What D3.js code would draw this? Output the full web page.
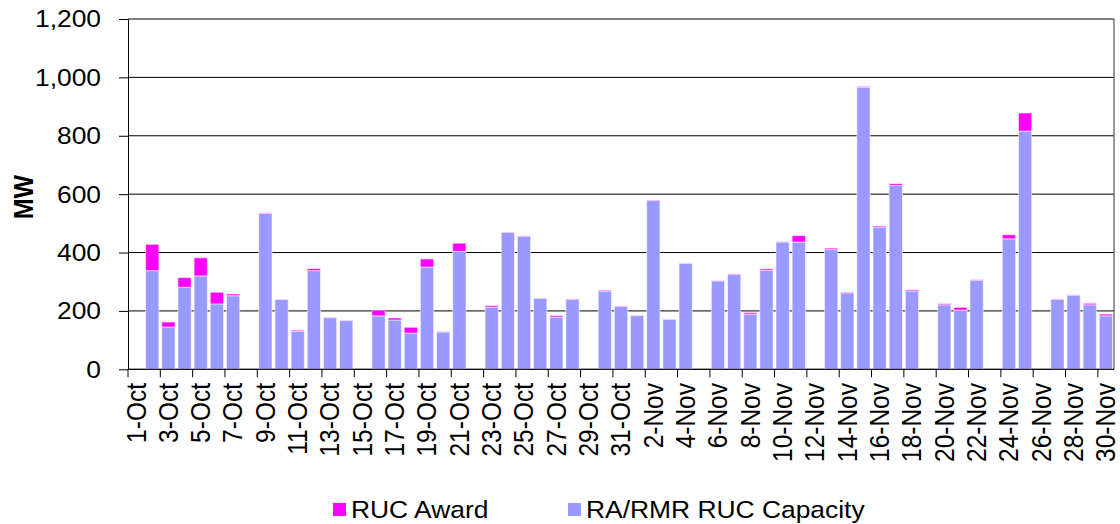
<!DOCTYPE html>
<html>
<head>
<meta charset="utf-8">
<script src="https://cdn.jsdelivr.net/npm/d3@7"></script>
<style>
  html, body { margin: 0; padding: 0; background: #fff; }
  svg { display: block; font-family: Arial, "Liberation Sans", sans-serif; }
</style>
</head>
<body>
<svg id="chart" width="1120" height="524"></svg>
<script>
// Daily RUC capacity and awards, 1-Oct through 30-Nov (MW)
const days = [
  "1-Oct","2-Oct","3-Oct","4-Oct","5-Oct","6-Oct","7-Oct","8-Oct","9-Oct","10-Oct",
  "11-Oct","12-Oct","13-Oct","14-Oct","15-Oct","16-Oct","17-Oct","18-Oct","19-Oct","20-Oct",
  "21-Oct","22-Oct","23-Oct","24-Oct","25-Oct","26-Oct","27-Oct","28-Oct","29-Oct","30-Oct",
  "31-Oct","1-Nov","2-Nov","3-Nov","4-Nov","5-Nov","6-Nov","7-Nov","8-Nov","9-Nov",
  "10-Nov","11-Nov","12-Nov","13-Nov","14-Nov","15-Nov","16-Nov","17-Nov","18-Nov","19-Nov",
  "20-Nov","21-Nov","22-Nov","23-Nov","24-Nov","25-Nov","26-Nov","27-Nov","28-Nov","29-Nov",
  "30-Nov"
];

const capacity = [
  0, 338, 145, 281, 320, 224, 252, 0, 534, 239,
  130, 338, 177, 167, 0, 183, 169, 124, 350, 128,
  404, 0, 213, 469, 456, 243, 179, 240, 0, 268,
  215, 184, 578, 171, 363, 0, 303, 325, 189, 339,
  436, 436, 0, 410, 262, 966, 487, 630, 268, 0,
  221, 203, 305, 0, 447, 816, 0, 240, 254, 221,
  183
];

const award = [
  0, 90, 17, 33, 62, 40, 6, 0, 2, 1,
  4, 7, 1, 1, 0, 20, 7, 20, 28, 1,
  28, 0, 5, 1, 1, 1, 5, 1, 0, 3,
  2, 1, 2, 1, 1, 0, 1, 2, 5, 5,
  1, 22, 0, 5, 2, 3, 4, 6, 4, 0,
  4, 9, 2, 0, 14, 62, 0, 1, 1, 5,
  6
];

const yTicks = [0, 200, 400, 600, 800, 1000, 1200];
const seriesNames = ["RUC Award", "RA/RMR RUC Capacity"];
const seriesColors = { "RUC Award": "#FF00FF", "RA/RMR RUC Capacity": "#9999FF" };

const svg = d3.select("#chart");
const W = 1120;
const x0 = 128, x1 = W - 6;
const yTop = 19, yBot = 369.3;
const stretch = 1.1; // text is drawn slightly wide

const x = d3.scaleBand().domain(days).range([x0, x1]).paddingInner(0.18).paddingOuter(0.09);
const y = d3.scaleLinear().domain([0, 1200]).range([yBot, yTop]);

// horizontal gridlines
svg.append("g")
  .selectAll("line")
  .data(yTicks)
  .join("line")
  .attr("x1", x0).attr("x2", x1)
  .attr("y1", d => y(d)).attr("y2", d => y(d))
  .attr("stroke", "#000").attr("stroke-width", 1);

// right edge of the plot area
svg.append("line")
  .attr("x1", x1).attr("x2", x1).attr("y1", yTop).attr("y2", yBot)
  .attr("stroke", "#555").attr("stroke-width", 1.2);

// stacked bars: capacity at the base, award on top
const rows = days.map((d, i) => ({ day: d, cap: capacity[i], award: award[i] }));
const stack = d3.stack().keys(["cap", "award"])(rows);
const keyName = { cap: "RA/RMR RUC Capacity", award: "RUC Award" };

svg.append("g")
  .selectAll("g")
  .data(stack)
  .join("g")
  .attr("fill", s => seriesColors[keyName[s.key]])
  .selectAll("rect")
  .data(s => s.filter(p => p[1] > p[0]))
  .join("rect")
  .attr("x", p => x(p.data.day))
  .attr("width", x.bandwidth())
  .attr("y", p => y(p[1]))
  .attr("height", p => y(p[0]) - y(p[1]))
  .attr("stroke", "rgba(255,255,255,0.55)")
  .attr("stroke-width", 1);

// y axis line and ticks
const yAxis = d3.axisLeft(y).tickValues(yTicks).tickSize(9).tickSizeOuter(0).tickFormat("");
const gy = svg.append("g").attr("transform", `translate(${x0},0)`).call(yAxis);
gy.select(".domain").attr("stroke", "#000");
gy.selectAll(".tick line").attr("stroke", "#000");

// y tick labels
svg.append("g")
  .selectAll("text")
  .data(yTicks)
  .join("text")
  .attr("transform", d => `translate(${x0 - 27},${y(d)}) scale(${stretch},1)`)
  .attr("text-anchor", "end")
  .attr("dy", "0.35em")
  .attr("font-size", 24)
  .attr("fill", "#000")
  .text(d3.format(","));

// x axis: ticks every two days on category boundaries, labels on odd days
const xa = svg.append("g");
xa.append("line").attr("x1", x0).attr("x2", x1).attr("y1", yBot).attr("y2", yBot).attr("stroke", "#000");
const gap = (x.step() - x.bandwidth()) / 2;
const boundaries = days.filter((d, i) => i % 2 === 0);
xa.selectAll("line.tk")
  .data(boundaries)
  .join("line")
  .attr("class", "tk")
  .attr("x1", d => x(d) - gap)
  .attr("x2", d => x(d) - gap)
  .attr("y1", yBot).attr("y2", yBot + 8)
  .attr("stroke", "#000");

const labelled = days.filter((d, i) => i % 2 === 0);
xa.selectAll("text")
  .data(labelled)
  .join("text")
  .attr("transform", d => `translate(${x(d) + x.bandwidth() / 2},383) scale(${stretch},1) rotate(-90)`)
  .attr("text-anchor", "end")
  .attr("dy", "0.35em")
  .attr("font-size", 24.5)
  .attr("fill", "#000")
  .text(d => d);

// y axis title
svg.append("text")
  .attr("transform", `translate(23,197) scale(${stretch},1) rotate(-90)`)
  .attr("text-anchor", "middle")
  .attr("dy", "0.35em")
  .attr("font-size", 25)
  .attr("font-weight", "bold")
  .text("MW");

// legend
const legendPos = [{ name: seriesNames[0], x: 333 }, { name: seriesNames[1], x: 568 }];
const lg = svg.append("g").selectAll("g").data(legendPos).join("g")
  .attr("transform", d => `translate(${d.x},503)`);
lg.append("rect").attr("width", 13).attr("height", 13).attr("fill", d => seriesColors[d.name]);
lg.append("text")
  .attr("transform", `translate(18,15) scale(${stretch},1)`)
  .attr("font-size", 24).attr("fill", "#000")
  .text(d => d.name);
</script>
</body>
</html>
